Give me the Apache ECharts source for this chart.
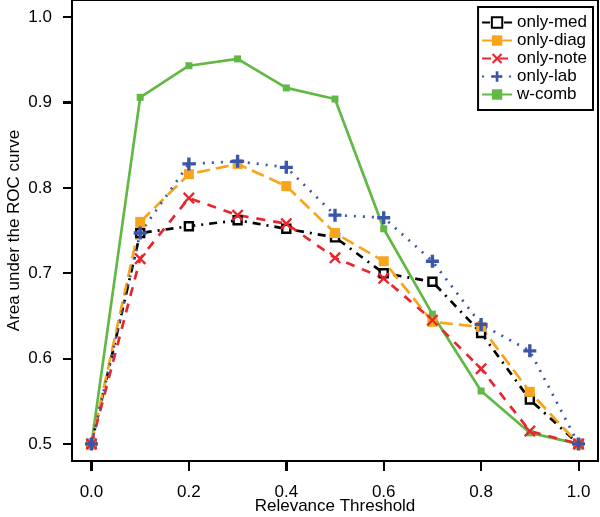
<!DOCTYPE html>
<html>
<head>
<meta charset="utf-8">
<script src="https://cdn.jsdelivr.net/npm/echarts@6/dist/echarts.min.js"></script>
<style>html,body{margin:0;padding:0;background:#fff;}#c{width:600px;height:517px;}</style>
</head>
<body>
<div id="c"></div>
<script>
var thresholds = [0.0, 0.1, 0.2, 0.3, 0.4, 0.5, 0.6, 0.7, 0.8, 0.9, 1.0];
var onlyMed  = [0.5, 0.747, 0.755, 0.762, 0.752, 0.742, 0.700, 0.690, 0.630, 0.552, 0.5];
var onlyDiag = [0.5, 0.760, 0.816, 0.828, 0.802, 0.747, 0.714, 0.643, 0.637, 0.561, 0.5];
var onlyNote = [0.5, 0.717, 0.788, 0.768, 0.758, 0.718, 0.694, 0.645, 0.588, 0.515, 0.5];
var onlyLab  = [0.5, 0.747, 0.828, 0.831, 0.824, 0.768, 0.765, 0.714, 0.640, 0.609, 0.5];
var wComb    = [0.5, 0.906, 0.943, 0.951, 0.917, 0.904, 0.752, 0.652, 0.562, 0.513, 0.5];
var xTicks = [0, 0.2, 0.4, 0.6, 0.8, 1.0];
var yTicks = [0.5, 0.6, 0.7, 0.8, 0.9, 1.0];
var seriesNames = ['only-med', 'only-diag', 'only-note', 'only-lab', 'w-comb'];

var FONT = '"Liberation Sans", Arial, Helvetica, sans-serif';
function pairs(ys) { return thresholds.map(function (x, i) { return [x, ys[i]]; }); }
var plusPath = 'path://M3.7,0H6.3V3.7H10V6.3H6.3V10H3.7V6.3H0V3.7H3.7Z';
var crossPath = 'path://M0,1.4L1.4,0L5,3.6L8.6,0L10,1.4L6.4,5L10,8.6L8.6,10L5,6.4L1.4,10L0,8.6L3.6,5Z';

function mk(name, ys, color, dash, symbol, size, hollow) {
  return {
    name: name, type: 'line', data: pairs(ys),
    symbol: symbol, symbolSize: size, showSymbol: true,
    lineStyle: { color: color, width: 2.7, type: dash, cap: 'butt' },
    itemStyle: hollow ? { color: '#fff', borderColor: color, borderWidth: 2.4 } : { color: color, borderWidth: 0 },
    emphasis: { disabled: true },
    animation: false
  };
}

var W = 600, H = 517;
var G = { left: 72, right: 2, top: 0, bottom: 56 };
var xMin = -0.04, xMax = 1.04, yMin = 0.48, yMax = 1.02;
var TICK_X = 10, TICK_Y = 9;
var gw = W - G.left - G.right, gh = H - G.top - G.bottom;
// same linear scale as the grid's axes (used only for the outward tick marks)
function xPx(v) { return G.left + (v - xMin) / (xMax - xMin) * gw; }
function yPx(v) { return G.top + (yMax - v) / (yMax - yMin) * gh; }

var ticks = [];
xTicks.forEach(function (v) {
  var px = Math.round(xPx(v));
  ticks.push({ type: 'rect', z: 1000, silent: true,
    shape: { x: px - 1, y: H - G.bottom, width: 2, height: TICK_X },
    style: { fill: '#000' } });
});
yTicks.forEach(function (v) {
  var py = Math.round(yPx(v));
  ticks.push({ type: 'rect', z: 1000, silent: true,
    shape: { x: G.left - TICK_Y, y: py - 1, width: TICK_Y, height: 2 },
    style: { fill: '#000' } });
});

var chart = echarts.init(document.getElementById('c'), null, { renderer: 'canvas' });
chart.setOption({
  animation: false,
  textStyle: { fontFamily: FONT },
  grid: { left: G.left, right: G.right, top: G.top, bottom: G.bottom, show: true, borderColor: '#000', borderWidth: 2,
    backgroundColor: 'transparent', containLabel: false, outerBoundsMode: 'none' },
  legend: {
    data: seriesNames,
    orient: 'vertical', right: 7, top: 7,
    padding: [7, 6, 7, 3],
    itemWidth: 30, itemHeight: 13, itemGap: 1, itemTextGap: 10,
    borderColor: '#000', borderWidth: 2, borderRadius: 0,
    textStyle: { fontFamily: FONT, fontSize: 17, color: '#000' },
    selectedMode: false
  },
  graphic: ticks,
  xAxis: {
    type: 'value', min: xMin, max: xMax,
    name: 'Relevance Threshold', nameLocation: 'middle', nameGap: 37, nameMoveOverlap: false,
    nameTextStyle: { fontFamily: FONT, fontSize: 17, color: '#000' },
    splitLine: { show: false },
    axisLine: { show: false, onZero: false },
    axisTick: { show: true, customValues: xTicks, length: TICK_X, lineStyle: { color: '#000', width: 2 } },
    axisLabel: { show: true, customValues: xTicks, margin: 23, fontFamily: FONT, fontSize: 17, color: '#000',
      formatter: function (v) { return Number(v).toFixed(1); } }
  },
  yAxis: {
    type: 'value', min: yMin, max: yMax,
    name: 'Area under the ROC curve', nameLocation: 'middle', nameGap: 49, nameMoveOverlap: false,
    nameTextStyle: { fontFamily: FONT, fontSize: 17, color: '#000' },
    splitLine: { show: false },
    axisLine: { show: false, onZero: false },
    axisTick: { show: true, customValues: yTicks, length: TICK_Y, lineStyle: { color: '#000', width: 2 } },
    axisLabel: { show: true, customValues: yTicks, margin: 20, fontFamily: FONT, fontSize: 17, color: '#000',
      formatter: function (v) { return Number(v).toFixed(1); } }
  },
  series: [
    mk('w-comb', wComb, '#62B845', 'solid', 'rect', 7, false),
    mk('only-med', onlyMed, '#000000', [8, 6, 2, 6], 'rect', 8, true),
    mk('only-diag', onlyDiag, '#F8A51C', [13, 6], 'rect', 10, false),
    mk('only-note', onlyNote, '#E8262D', [9, 8], crossPath, 12, false),
    mk('only-lab', onlyLab, '#3A56A8', [2, 7], plusPath, 13, false)
  ]
});
</script>
</body>
</html>
